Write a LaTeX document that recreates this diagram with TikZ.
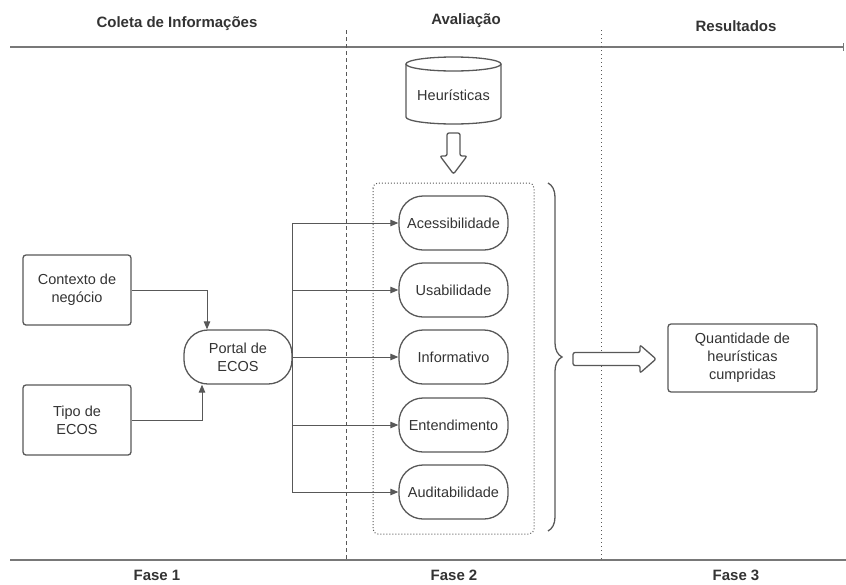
\documentclass[tikz,border=0pt]{standalone}
\usepackage{fontspec}
\setmainfont{Liberation Sans}
\usetikzlibrary{arrows.meta,decorations.pathreplacing}
\definecolor{lineGray}{RGB}{88,88,88}
\definecolor{textGray}{RGB}{51,51,51}
\definecolor{axisGray}{RGB}{120,120,120}
\tikzset{
  box/.style={draw=lineGray, line width=1.3pt, rounded corners=3pt, minimum width=108pt, minimum height=70pt, align=center, text=textGray, inner sep=0pt, font=\fontsize{14.5}{18}\selectfont},
  pill/.style={draw=lineGray, line width=1.3pt, rounded corners=24pt, minimum width=109pt, minimum height=54pt, align=center, text=textGray, inner sep=0pt, font=\fontsize{14.5}{18}\selectfont},
  conn/.style={draw=lineGray, line width=1pt, -{Triangle[length=8pt,width=6.5pt]}},
  head/.style={text=textGray, inner sep=0pt, font=\fontsize{15}{18}\selectfont\bfseries},
  hollow/.style={draw=lineGray, line width=1.3pt, rounded corners=2pt, fill=white}
}
\begin{document}
\begin{tikzpicture}[x=1pt,y=1pt,yscale=-1,xscale=1]
        \useasboundingbox (0,0) rectangle (846,584);
        \draw [axisGray, line width=1.5pt, -{Bar[width=8pt]}] (10,47) -- (844,47);
        \draw [axisGray, line width=1.5pt] (10,560) -- (846,560);
        \draw [lineGray, line width=0.8pt, dash pattern=on 4pt off 3pt] (346,30) -- (346,560);
        \draw [lineGray, line width=1pt, dash pattern=on 1pt off 3pt] (601,30) -- (601,560);
        \node [head] (hcol) at (177,24) {Coleta de Informações};
        \node [head] (hava) at (466,21) {Avaliação};
        \node [head] (hres) at (736,26) {Resultados};
        \node [head] (fase1) at (157,575) {Fase 1};
        \node [head] (fase2) at (454,575) {Fase 2};
        \node [head] (fase3) at (736,575) {Fase 3};
        \draw [lineGray, line width=1.3pt, fill=white] (406,64) -- (406,117) arc [start angle=180, end angle=0, x radius=47.5, y radius=7] -- (501,64);
        \draw [lineGray, line width=1.3pt, fill=white] (453.5,64) ellipse [x radius=47.5, y radius=7];
        \node [text=textGray, font=\fontsize{14.5}{18}\selectfont] (heur) at (453.5,95) {Heurísticas};
        \draw [hollow] (447,133) -- (460,133) -- (460,156) -- (467,156) -- (453.5,174) -- (440,156) -- (447,156) -- cycle;
        \draw [lineGray, line width=1pt, dash pattern=on 1pt off 2pt, rounded corners=5pt] (373,183) rectangle (534,534);
        \node [pill] (acess) at (453.5,223) {Acessibilidade};
        \node [pill] (usab) at (453.5,290) {Usabilidade};
        \node [pill] (info) at (453.5,357) {Informativo};
        \node [pill] (ente) at (453.5,425) {Entendimento};
        \node [pill] (audit) at (453.5,492) {Auditabilidade};
        \node [box] (ctx) at (77,290) {Contexto de\\negócio};
        \node [box] (tipo) at (77,420) {Tipo de\\ECOS};
        \node [pill, minimum width=108pt] (portal) at (238,357) {Portal de\\ECOS};
        \node [box, minimum width=149pt, minimum height=68pt] (qtde) at (742.5,358) {Quantidade de\\heurísticas\\cumpridas};
        \draw [conn] (ctx.east) -| ([xshift=-31pt]portal.north);
        \draw [conn] (tipo.east) -| ([xshift=-36pt]portal.south);
        \draw [conn] (portal.east) |- (acess.west);
        \draw [conn] (portal.east) |- (usab.west);
        \draw [conn] (portal.east) -- (info.west);
        \draw [conn] (portal.east) |- (ente.west);
        \draw [conn] (portal.east) |- (audit.west);
        \draw [lineGray, line width=1.3pt, decorate, decoration={brace, amplitude=14pt}] (548,183) -- (548,531);
        \draw [hollow] (573,352.5) -- (640,352.5) -- (640,345) -- (656,359) -- (640,373) -- (640,365.5) -- (573,365.5) -- cycle;
\end{tikzpicture}
\end{document}
